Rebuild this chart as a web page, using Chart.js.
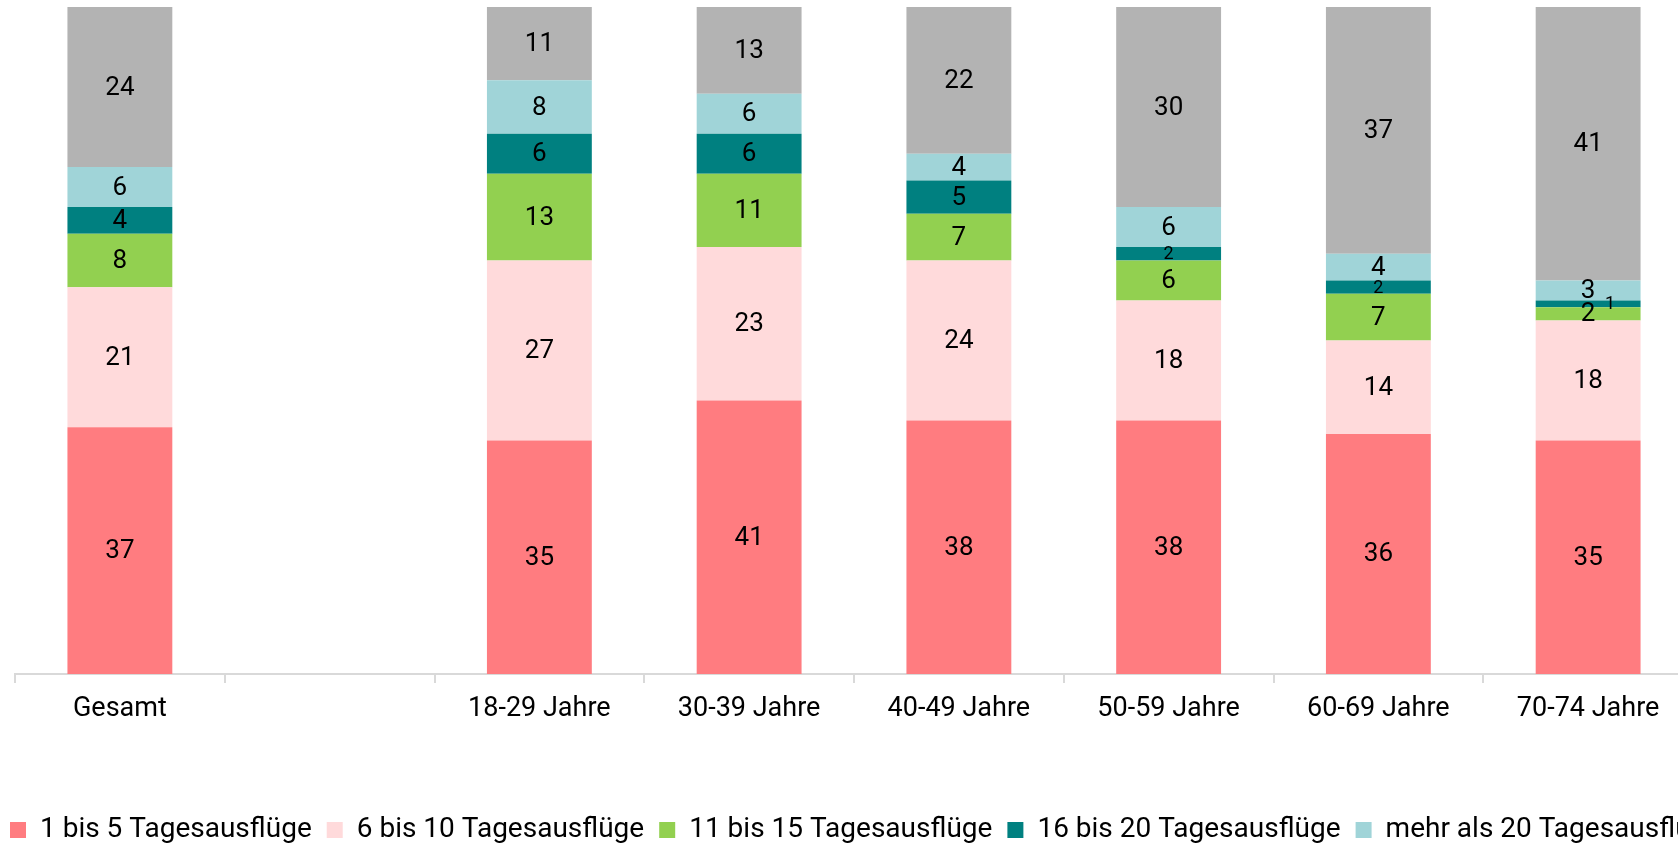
<!DOCTYPE html>
<html>
<head>
<meta charset="utf-8">
<script src="https://cdn.jsdelivr.net/npm/chart.js@4.4.1/dist/chart.umd.min.js"></script>
<style>
  html, body { margin: 0; padding: 0; background: #fff; overflow: hidden; }
  #wrap { position: relative; width: 2400px; height: 854px; margin-left: -5px; }
</style>
</head>
<body>
<div id="wrap"><canvas id="myChart"></canvas></div>
<script>
// Anzahl Tagesausfluege nach Altersgruppe, Angaben in %
var categories = ['Gesamt', '', '18-29 Jahre', '30-39 Jahre', '40-49 Jahre', '50-59 Jahre', '60-69 Jahre', '70-74 Jahre'];
var seriesNames = ['1 bis 5 Tagesausflüge', '6 bis 10 Tagesausflüge', '11 bis 15 Tagesausflüge', '16 bis 20 Tagesausflüge', 'mehr als 20 Tagesausflüge', 'keine Tagesausflüge'];
var bis5   = [37, null, 35, 41, 38, 38, 36, 35];
var bis10  = [21, null, 27, 23, 24, 18, 14, 18];
var bis15  = [8,  null, 13, 11, 7,  6,  7,  2];
var bis20  = [4,  null, 6,  6,  5,  2,  2,  1];
var mehr20 = [6,  null, 8,  6,  4,  6,  4,  3];
var keine  = [24, null, 11, 13, 22, 30, 37, 41];

var colors = ['#FF7C80', '#FFDADB', '#92D050', '#008080', '#A0D4D8', '#B3B3B3'];
var allData = [bis5, bis10, bis15, bis20, mehr20, keine];

var FONT = 'Roboto';

// simple value labels in the middle of each segment
const segLabels = {
  id: 'segLabels',
  afterDatasetsDraw(chart, args, opts) {
    const ctx = chart.ctx;
    ctx.save();
    ctx.fillStyle = '#000';
    ctx.textAlign = 'center';
    ctx.textBaseline = 'middle';
    chart.data.datasets.forEach((ds, di) => {
      const meta = chart.getDatasetMeta(di);
      meta.data.forEach((bar, i) => {
        const v = ds.data[i];
        if (v == null) return;
        const small = opts.small.find(s => s[0] === di && s[1] === i);
        let size = small ? opts.smallSize : opts.size;
        let dx = small ? small[2] : 0;
        ctx.font = size + 'px ' + FONT;
        const y = (bar.y + bar.base) / 2;
        ctx.fillText(String(v), bar.x + dx, y + 1);
      });
    });
    ctx.restore();
  }
};

const chart = new Chart('myChart', {
  type: 'bar',
  data: {
    labels: categories,
    datasets: allData.map((d, i) => ({
      label: seriesNames[i],
      data: d,
      backgroundColor: colors[i],
      borderWidth: 0,
      barPercentage: 0.5,
      categoryPercentage: 1.0
    }))
  },
  options: {
    responsive: true,
    maintainAspectRatio: false,
    animation: false,
    layout: { padding: { left: 0, right: 0, top: 7, bottom: 0 } },
    scales: {
      x: {
        stacked: true,
        grid: { display: true, drawOnChartArea: false, offset: true, tickLength: 9, color: '#D9D9D9', lineWidth: 2 },
        border: { display: true, color: '#D9D9D9', width: 2 },
        ticks: { color: '#000', font: { family: FONT, size: 27 }, padding: 10, maxRotation: 0, autoSkip: false },
        afterFit(scale) { scale.height = 127; }
      },
      y: {
        stacked: true,
        min: 0,
        max: 100,
        ticks: { display: false },
        grid: { display: false },
        border: { display: false },
        afterFit(scale) { scale.width = 20; }
      },
      // empty axis on the right, only to push the plot edge to where the original ends
      yRight: {
        position: 'right',
        ticks: { display: false },
        grid: { display: false },
        border: { display: false },
        afterFit(scale) { scale.width = 702; }
      }
    },
    plugins: {
      legend: {
        position: 'bottom',
        align: 'start',
        labels: {
          color: '#000',
          font: { family: FONT, size: 28 },
          boxWidth: 16,
          boxHeight: 16,
          padding: 15
        }
      },
      tooltip: { enabled: false },
      segLabels: {
        size: 26,
        smallSize: 18,
        small: [[3, 5, 0], [3, 6, 0], [3, 7, 22]]
      }
    }
  },
  plugins: [segLabels]
});
</script>
</body>
</html>
